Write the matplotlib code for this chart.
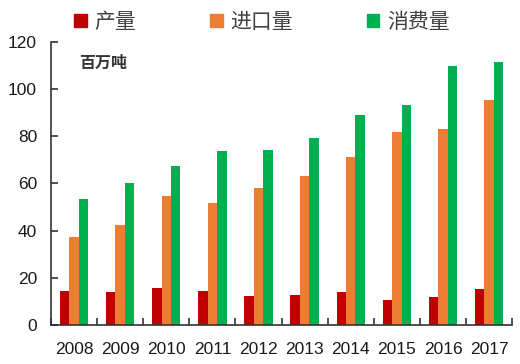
import matplotlib.pyplot as plt
import numpy as np
from matplotlib.patches import Patch

plt.rcParams['font.family'] = ['Liberation Sans', 'Noto Sans CJK SC']

years = ['2008', '2009', '2010', '2011', '2012', '2013', '2014', '2015', '2016', '2017']
production = [14.6, 14.1, 15.8, 14.3, 12.1, 12.9, 14.0, 10.7, 12.0, 15.4]
imports = [37.2, 42.5, 54.6, 51.8, 58.2, 63.1, 71.3, 81.6, 83.1, 95.5]
consumption = [53.4, 60.4, 67.5, 73.7, 74.3, 79.3, 88.8, 93.2, 109.9, 111.6]
names = ['产量', '进口量', '消费量']
colors = ['#C00000', '#ED7D31', '#00B050']

fig = plt.figure(figsize=(5.2, 3.64), dpi=100)
ax = fig.add_axes([0.098, 0.107, 0.887, 0.778])

x = np.arange(len(years))
w = 0.205
for i, vals in enumerate([production, imports, consumption]):
    ax.bar(x + (i - 1) * w, vals, w, color=colors[i])

ax.set_xlim(-0.5, len(years) - 0.5)
ax.set_ylim(0, 120)
ax.set_yticks(range(0, 121, 20))
ax.set_xticks(x)
ax.set_xticklabels(years, fontsize=12.5, color='#1a1a1a')
ax.tick_params(axis='x', length=0, pad=12)
ax.set_xticks(np.arange(-0.5, len(years)), minor=True)
ax.tick_params(axis='x', which='minor', direction='in', length=5, width=1.2, color='#333333')
ax.tick_params(axis='y', direction='in', length=5, width=1.2, color='#333333', labelsize=12.5, labelcolor='#1a1a1a', pad=10)
for s in ['top', 'right']:
    ax.spines[s].set_visible(False)
for s in ['left', 'bottom']:
    ax.spines[s].set_color('#333333')
    ax.spines[s].set_linewidth(1.2)

ax.text(0.062, 0.955, '百万吨', transform=ax.transAxes, fontsize=11.5, fontweight='bold',
        color='#333333', va='top', family=['Noto Sans CJK SC'])

handles = [Patch(color=c) for c in colors]
leg = fig.legend(handles, names, loc='center left', bbox_to_anchor=(0.142, 0.94), ncol=3,
                 frameon=False, handlelength=0.62, handleheight=0.62,
                 handletextpad=0.35, columnspacing=3.55, borderaxespad=0, borderpad=0,
                 prop={'family': 'Noto Sans CJK SC', 'size': 15})
for t in leg.get_texts():
    t.set_color('#404040')

fig.savefig('out.png', dpi=100)
